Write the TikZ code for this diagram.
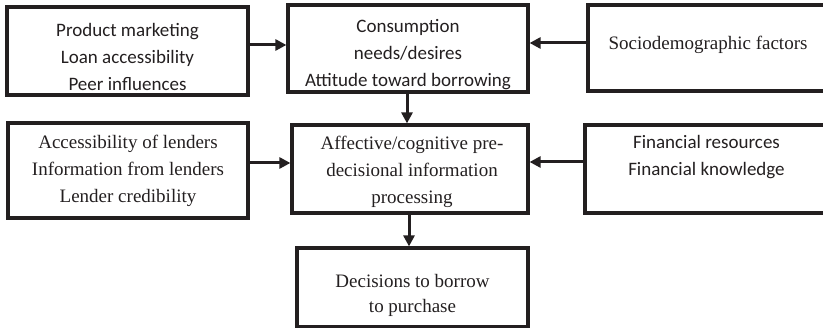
\documentclass[tikz,border=0pt]{standalone}
\usepackage{fontspec}
\setmainfont{Liberation Serif}
\newfontfamily\calib{Carlito}
\usetikzlibrary{arrows.meta}
\definecolor{ink}{HTML}{231F20}
\tikzset{
  box/.style={draw=ink, line width=3.2pt, inner sep=0pt},
  txt/.style={align=center, text=ink, inner sep=0pt, font=\fontsize{19}{27}\selectfont},
  stxt/.style={txt, font=\calib\fontsize{19}{27}\selectfont},
  arr/.style={draw=ink, line width=3pt, -{Triangle[length=11pt,width=11pt]}}
}
\begin{document}
\begin{tikzpicture}[x=1pt,y=1pt]
\useasboundingbox (0,0) rectangle (823,-328);
\clip (0,0) rectangle (823,-328);
\node[box, minimum width=241pt, minimum height=88pt] (b1) at (127.5,-51) {};
\node[box, minimum width=240pt, minimum height=87pt] (b2) at (408,-48.5) {};
\node[box, minimum width=280pt, minimum height=86pt] (b3) at (728,-48) {};
\node[box, minimum width=240pt, minimum height=95pt] (b4) at (128,-170.5) {};
\node[box, minimum width=236pt, minimum height=88pt] (b5) at (410,-169) {};
\node[box, minimum width=280pt, minimum height=88pt] (b6) at (725,-169) {};
\node[box, minimum width=231pt, minimum height=79pt] (b7) at (412.5,-287.5) {};
\node[stxt] (t1) at (127.5,-57) {Product marketing\\Loan accessibility\\Peer influences};
\node[stxt] (t2) at (408,-55) {Consumption\\needs/desires\\Attitude toward borrowing};
\node[txt] (t3) at (708,-45) {Sociodemographic factors};
\node[txt] (t4) at (128,-170.5) {Accessibility of lenders\\Information from lenders\\Lender credibility};
\node[txt] (t5) at (412,-172) {Affective/cognitive pre-\\decisional information\\processing};
\node[stxt] (t6) at (706.5,-157) {Financial resources\\Financial knowledge};
\node[txt, font=\fontsize{19}{25}\selectfont] (t7) at (412.5,-295) {Decisions to borrow\\to purchase};
\draw[arr] ([yshift=6pt]b1.east) -- ([yshift=6pt]b1.east -| b2.west);
\draw[arr] ([yshift=5pt]b3.west) -- ([yshift=5pt]b3.west -| b2.east);
\draw[arr] ([xshift=-1pt]b2.south) -- ([xshift=-1pt]b2.south |- b5.north);
\draw[arr] ([yshift=7.5pt]b4.east) -- ([yshift=7.5pt]b4.east -| b5.west);
\draw[arr] ([yshift=7pt]b6.west) -- ([yshift=7pt]b6.west -| b5.east);
\draw[arr] ([xshift=-1pt]b5.south) -- ([xshift=-1pt]b5.south |- b7.north);
\end{tikzpicture}
\end{document}
